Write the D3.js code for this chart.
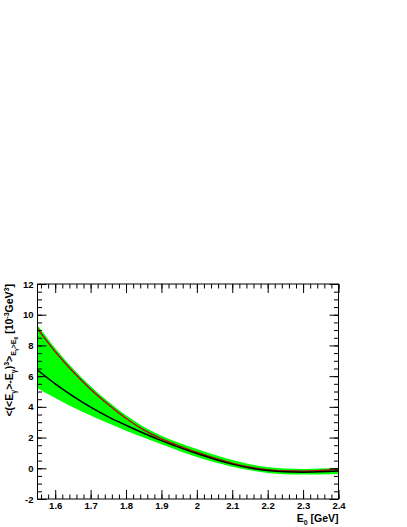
<!DOCTYPE html>
<html>
<head>
<meta charset="utf-8">
<script src="https://cdn.jsdelivr.net/npm/d3@7"></script>
<style>
  body { margin: 0; background: #fff; }
  text { font-family: "Liberation Sans", Arial, sans-serif; font-weight: bold; }
</style>
</head>
<body>
<div id="chart"></div>
<script>
// valeurs
const e0 = [1.55, 1.6, 1.65, 1.7, 1.75, 1.8, 1.85, 1.9, 1.95, 2.0, 2.05, 2.1, 2.15, 2.2, 2.25, 2.3, 2.35, 2.4];
const central = [6.4, 5.5, 4.7, 3.98, 3.35, 2.8, 2.28, 1.8, 1.36, 0.96, 0.59, 0.27, 0.02, -0.15, -0.23, -0.25, -0.22, -0.17];
const upperRed = [9.1, 7.6, 6.3, 5.15, 4.15, 3.25, 2.5, 1.92, 1.45, 1.04, 0.66, 0.33, 0.07, -0.1, -0.17, -0.18, -0.14, -0.08];
const bandTop = [9.33, 7.82, 6.5, 5.35, 4.35, 3.45, 2.7, 2.12, 1.66, 1.26, 0.88, 0.54, 0.27, 0.08, -0.02, -0.04, -0.01, 0.04];
const bandLow = [5.21, 4.58, 3.98, 3.43, 2.93, 2.45, 2.0, 1.56, 1.13, 0.74, 0.39, 0.1, -0.13, -0.3, -0.39, -0.41, -0.4, -0.37];
const xTicks = [1.6, 1.7, 1.8, 1.9, 2.0, 2.1, 2.2, 2.3, 2.4];
const yTicks = [-2, 0, 2, 4, 6, 8, 10, 12];

const W = 407, H = 527;
const margin = { top: 284, right: 68.5, bottom: 28, left: 37.5 };
const width = W - margin.left - margin.right;
const height = H - margin.top - margin.bottom;

const svg = d3.select("#chart").append("svg")
  .attr("width", W).attr("height", H);
const g = svg.append("g").attr("transform", `translate(${margin.left},${margin.top})`);

const x = d3.scaleLinear().domain([1.55, 2.4]).range([0, width]);
const y = d3.scaleLinear().domain([-2, 12]).range([height, 0]);

// bande verte
const rows = e0.map((e, i) => ({ e, c: central[i], r: upperRed[i], t: bandTop[i], l: bandLow[i] }));
const area = d3.area().x(d => x(d.e)).y0(d => y(d.l)).y1(d => y(d.t)).curve(d3.curveMonotoneX);
g.append("path").datum(rows).attr("d", area).attr("fill", "#00ff00");

const line = key => d3.line().x(d => x(d.e)).y(d => y(d[key])).curve(d3.curveMonotoneX);

// bord supérieur : pointillé sombre + tirets rouges
g.append("path").datum(rows).attr("d", line("r"))
  .attr("fill", "none").attr("stroke", "#2a2a2a").attr("stroke-width", 1.2);
g.append("path").datum(rows).attr("d", line("r"))
  .attr("fill", "none").attr("stroke", "#ff0000").attr("stroke-width", 1.3)
  .attr("stroke-dasharray", "3,1.5");

// courbe centrale
g.append("path").datum(rows).attr("d", line("c"))
  .attr("fill", "none").attr("stroke", "#000").attr("stroke-width", 1.5);

// axes (ticks vers l'intérieur)
const xMinor = d3.range(1.56, 2.401, 0.02);
const yMinor = d3.range(-2, 12.01, 0.5);

function noDomain(sel) { sel.select(".domain").remove(); }

g.append("g").attr("transform", `translate(0,${height})`)
  .call(d3.axisBottom(x).tickValues(xMinor).tickSize(-4.5).tickFormat(""))
  .call(noDomain);
g.append("g").attr("transform", `translate(0,${height})`)
  .call(d3.axisBottom(x).tickValues(xTicks).tickSize(-9).tickPadding(3)
    .tickFormat(d => String(+d.toFixed(1))))
  .call(noDomain);
g.append("g")
  .call(d3.axisTop(x).tickValues(xMinor).tickSize(-4.5).tickFormat("")).call(noDomain);
g.append("g")
  .call(d3.axisTop(x).tickValues(xTicks).tickSize(-9).tickFormat("")).call(noDomain);

g.append("g")
  .call(d3.axisLeft(y).tickValues(yMinor).tickSize(-4.5).tickFormat("")).call(noDomain);
g.append("g")
  .call(d3.axisLeft(y).tickValues(yTicks).tickSize(-9).tickPadding(4).tickFormat(d => d))
  .call(noDomain);
g.append("g").attr("transform", `translate(${width},0)`)
  .call(d3.axisRight(y).tickValues(yMinor).tickSize(-4.5).tickFormat("")).call(noDomain);
g.append("g").attr("transform", `translate(${width},0)`)
  .call(d3.axisRight(y).tickValues(yTicks).tickSize(-9).tickFormat("")).call(noDomain);

g.selectAll(".tick line").attr("stroke", "#000");
g.selectAll(".tick text").attr("fill", "#000").style("font-size", "9.5px")
  .style("font-family", "'Liberation Sans', Arial, sans-serif").style("font-weight", "bold");

// cadre
g.append("rect").attr("width", width).attr("height", height)
  .attr("fill", "none").attr("stroke", "#000").attr("stroke-width", 1);

// titre de l'axe x
const xt = svg.append("text")
  .attr("x", margin.left + width).attr("y", 522)
  .attr("text-anchor", "end").style("font-size", "10.5px");
xt.append("tspan").text("E");
xt.append("tspan").attr("dy", 2.5).style("font-size", "7px").text("0");
xt.append("tspan").attr("dy", -2.5).text(" [GeV]");

// titre de l'axe y
const yt = svg.append("text")
  .attr("transform", `translate(13,${margin.top}) rotate(-90)`)
  .attr("text-anchor", "end").style("font-size", "10.5px");
yt.append("tspan").text("<(<E");
yt.append("tspan").attr("dy", 2.5).style("font-size", "7px").text("γ");
yt.append("tspan").attr("dy", -2.5).text(">-E");
yt.append("tspan").attr("dy", 2.5).style("font-size", "7px").text("γ");
yt.append("tspan").attr("dy", -2.5).text(")");
yt.append("tspan").attr("dy", -4).style("font-size", "7px").text("3");
yt.append("tspan").attr("dy", 4).text(">");
yt.append("tspan").attr("dy", 3).style("font-size", "7px").text("E");
yt.append("tspan").attr("dy", 1.5).style("font-size", "5px").text("γ");
yt.append("tspan").attr("dy", -1.5).style("font-size", "7px").text(">E");
yt.append("tspan").attr("dy", 1.5).style("font-size", "5px").text("0");
yt.append("tspan").attr("dy", -4.5).text(" [10");
yt.append("tspan").attr("dy", -4).style("font-size", "7px").text("-3");
yt.append("tspan").attr("dy", 4).text("GeV");
yt.append("tspan").attr("dy", -4).style("font-size", "7px").text("3");
yt.append("tspan").attr("dy", 4).text("]");
</script>
</body>
</html>
